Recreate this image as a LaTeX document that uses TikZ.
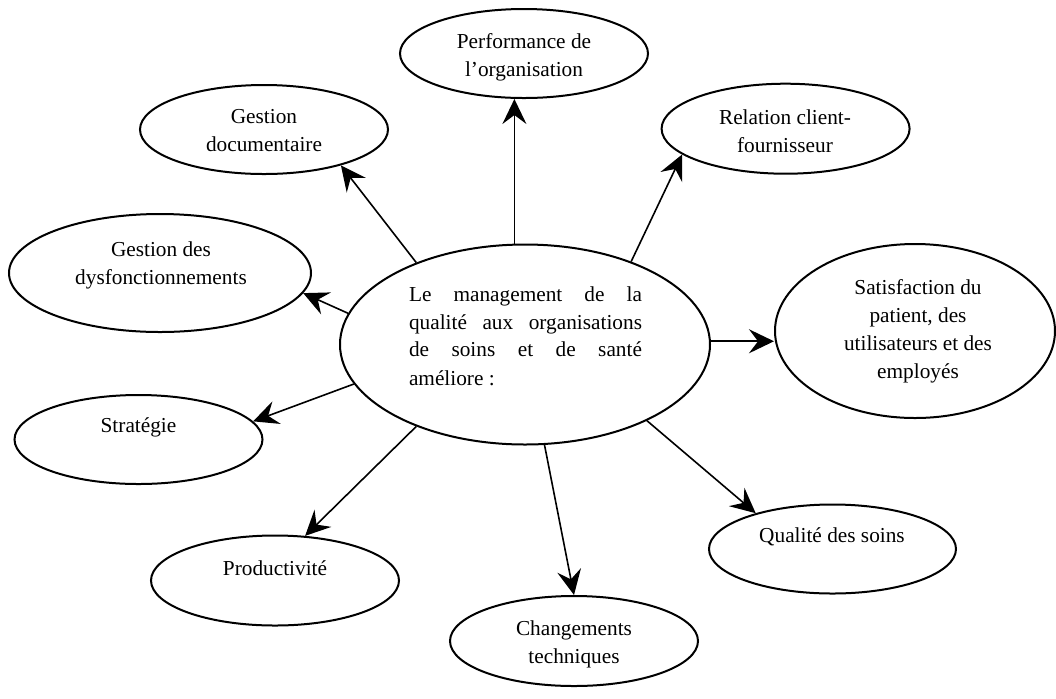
\documentclass[tikz,border=0pt]{standalone}
\usepackage{fontspec}
\setmainfont{Liberation Serif}
\usetikzlibrary{arrows.meta,shapes.geometric}
\begin{document}
\begin{tikzpicture}[x=0.5pt,y=-0.5pt,
  ell/.style={draw, line width=1pt, ellipse, inner sep=0pt},
  txt/.style={font=\fontsize{10.65pt}{14pt}\selectfont, align=center, inner sep=0pt},
  arr/.style={draw, line width=0.8pt, -{Stealth[length=12.5pt,width=12pt,inset=4.5pt]}}]
\useasboundingbox (0,0) rectangle (1056,698);

% ellipses
\node[ell, minimum width=185pt, minimum height=100pt] (c) at (525,344.5) {};
\node[ell, minimum width=124pt, minimum height=44.5pt] (perf) at (524,53.5) {};
\node[ell, minimum width=124pt, minimum height=44.5pt] (gdoc) at (264,129.5) {};
\node[ell, minimum width=151pt, minimum height=59pt] (dysf) at (160,273) {};
\node[ell, minimum width=124pt, minimum height=44.5pt] (strat) at (138.5,439.5) {};
\node[ell, minimum width=124pt, minimum height=45pt] (prod) at (275,580.5) {};
\node[ell, minimum width=124pt, minimum height=45pt] (rel) at (785.6,128.7) {};
\node[ell, minimum width=140pt, minimum height=87pt] (sat) at (915,331) {};
\node[ell, minimum width=123.5pt, minimum height=44.5pt] (qual) at (832.5,549) {};
\node[ell, minimum width=124pt, minimum height=45pt] (chang) at (574,641) {};

% texts
\node[txt] (perf-t) at (524,57) {Performance de\\l’organisation};
\node[txt] (gdoc-t) at (264,131) {Gestion\\documentaire};
\node[txt] (dysf-t) at (161,265.3) {Gestion des\\dysfonctionnements};
\node[txt] (strat-t) at (138.5,427) {Stratégie};
\node[txt] (prod-t) at (275,568.6) {Productivité};
\node[txt] (rel-t) at (785,131) {Relation client-\\fournisseur};
\node[txt] (sat-t) at (918,331.2) {Satisfaction du\\patient, des\\utilisateurs et des\\employés};
\node[txt] (qual-t) at (832,536.5) {Qualité des soins};
\node[txt] (chang-t) at (574,644.5) {Changements\\techniques};
\node[txt, align=left] (c-t) at (525.5,335.75) {\makebox[116.5pt][s]{Le management de la}\\\makebox[116.5pt][s]{qualité aux organisations}\\\makebox[116.5pt][s]{de soins et de santé}\\améliore :};

% connectors
\draw[arr] (c.96.57) -- (c.96.57 |- perf.south);
\draw[arr] (c.143.4) -- (gdoc.335.5);
\draw[arr] (c.170.6) -- (dysf.352.2);
\draw[arr] (c.193.3) -- (strat.9.3);
\draw[arr] (c.217.3) -- (prod.56);
\draw[arr] (c.281) -- (chang.90.6);
\draw[arr] (c.328.3) -- (qual.155.3);
\draw[arr] (c.1.39) -- (c.1.39 -| sat.west);
\draw[arr] (c.38.9) -- (rel.194.3);
\end{tikzpicture}
\end{document}
